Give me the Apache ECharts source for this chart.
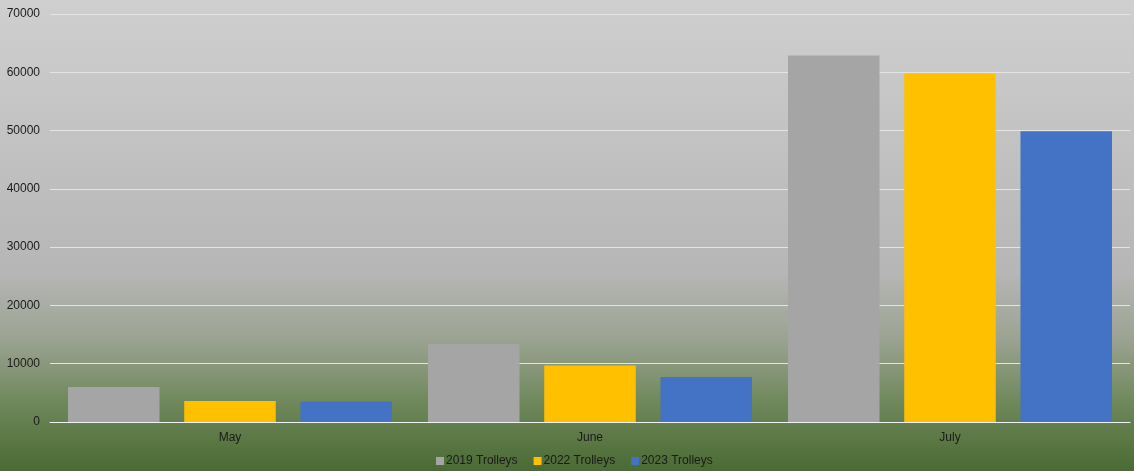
<!DOCTYPE html>
<html>
<head>
<meta charset="utf-8">
<script src="https://cdn.jsdelivr.net/npm/echarts@6/dist/echarts.min.js"></script>
<style>
html,body{margin:0;padding:0;}
#chart{width:1134px;height:471px;}
</style>
</head>
<body>
<div id="chart"></div>
<script>
const categories = ['May', 'June', 'July'];
const trolleys2019 = [6000, 13400, 62900];
const trolleys2022 = [3600, 9700, 59800];
const trolleys2023 = [3500, 7700, 49900];
const seriesNames = ['2019 Trolleys', '2022 Trolleys', '2023 Trolleys'];
const colors = ['#A5A5A5', '#FFC000', '#4472C4'];

const chart = echarts.init(document.getElementById('chart'));
const font = 'Liberation Sans, Arial, sans-serif';
chart.setOption({
  backgroundColor: new echarts.graphic.LinearGradient(0, 0, 0, 1, [
    {offset: 0, color: '#cfcfcf'},
    {offset: 0.58, color: '#b6b6b6'},
    {offset: 0.72, color: '#9ba392'},
    {offset: 0.86, color: '#6d8759'},
    {offset: 1, color: '#4a6a33'}
  ]),
  animation: false,
  grid: {left: 50, right: 4, top: 14, bottom: 49, containLabel: false},
  legend: {
    top: 455,
    left: 431,
    padding: [0, 5],
    itemWidth: 8,
    itemHeight: 8,
    itemGap: 16,
    icon: 'rect',
    textStyle: {fontFamily: font, fontSize: 12, color: '#1a1a1a', padding: [0, 0, 0, -3]},
    data: seriesNames
  },
  xAxis: {
    type: 'category',
    data: categories,
    axisLine: {lineStyle: {color: '#f2f2f2', width: 1}},
    axisTick: {show: false},
    axisLabel: {fontFamily: font, fontSize: 12, color: '#1a1a1a', margin: 10}
  },
  yAxis: {
    type: 'value',
    min: 0,
    max: 70000,
    interval: 10000,
    axisLine: {show: false},
    axisTick: {show: false},
    axisLabel: {fontFamily: font, fontSize: 12, color: '#1a1a1a', margin: 10, formatter: function (v) { return String(v); }},
    splitLine: {lineStyle: {color: '#e4e4e4', width: 1}}
  },
  series: [
    {name: seriesNames[0], type: 'bar', data: trolleys2019, itemStyle: {color: colors[0]}, barGap: '27%', barCategoryGap: '10%'},
    {name: seriesNames[1], type: 'bar', data: trolleys2022, itemStyle: {color: colors[1]}},
    {name: seriesNames[2], type: 'bar', data: trolleys2023, itemStyle: {color: colors[2]}}
  ]
});
</script>
</body>
</html>
